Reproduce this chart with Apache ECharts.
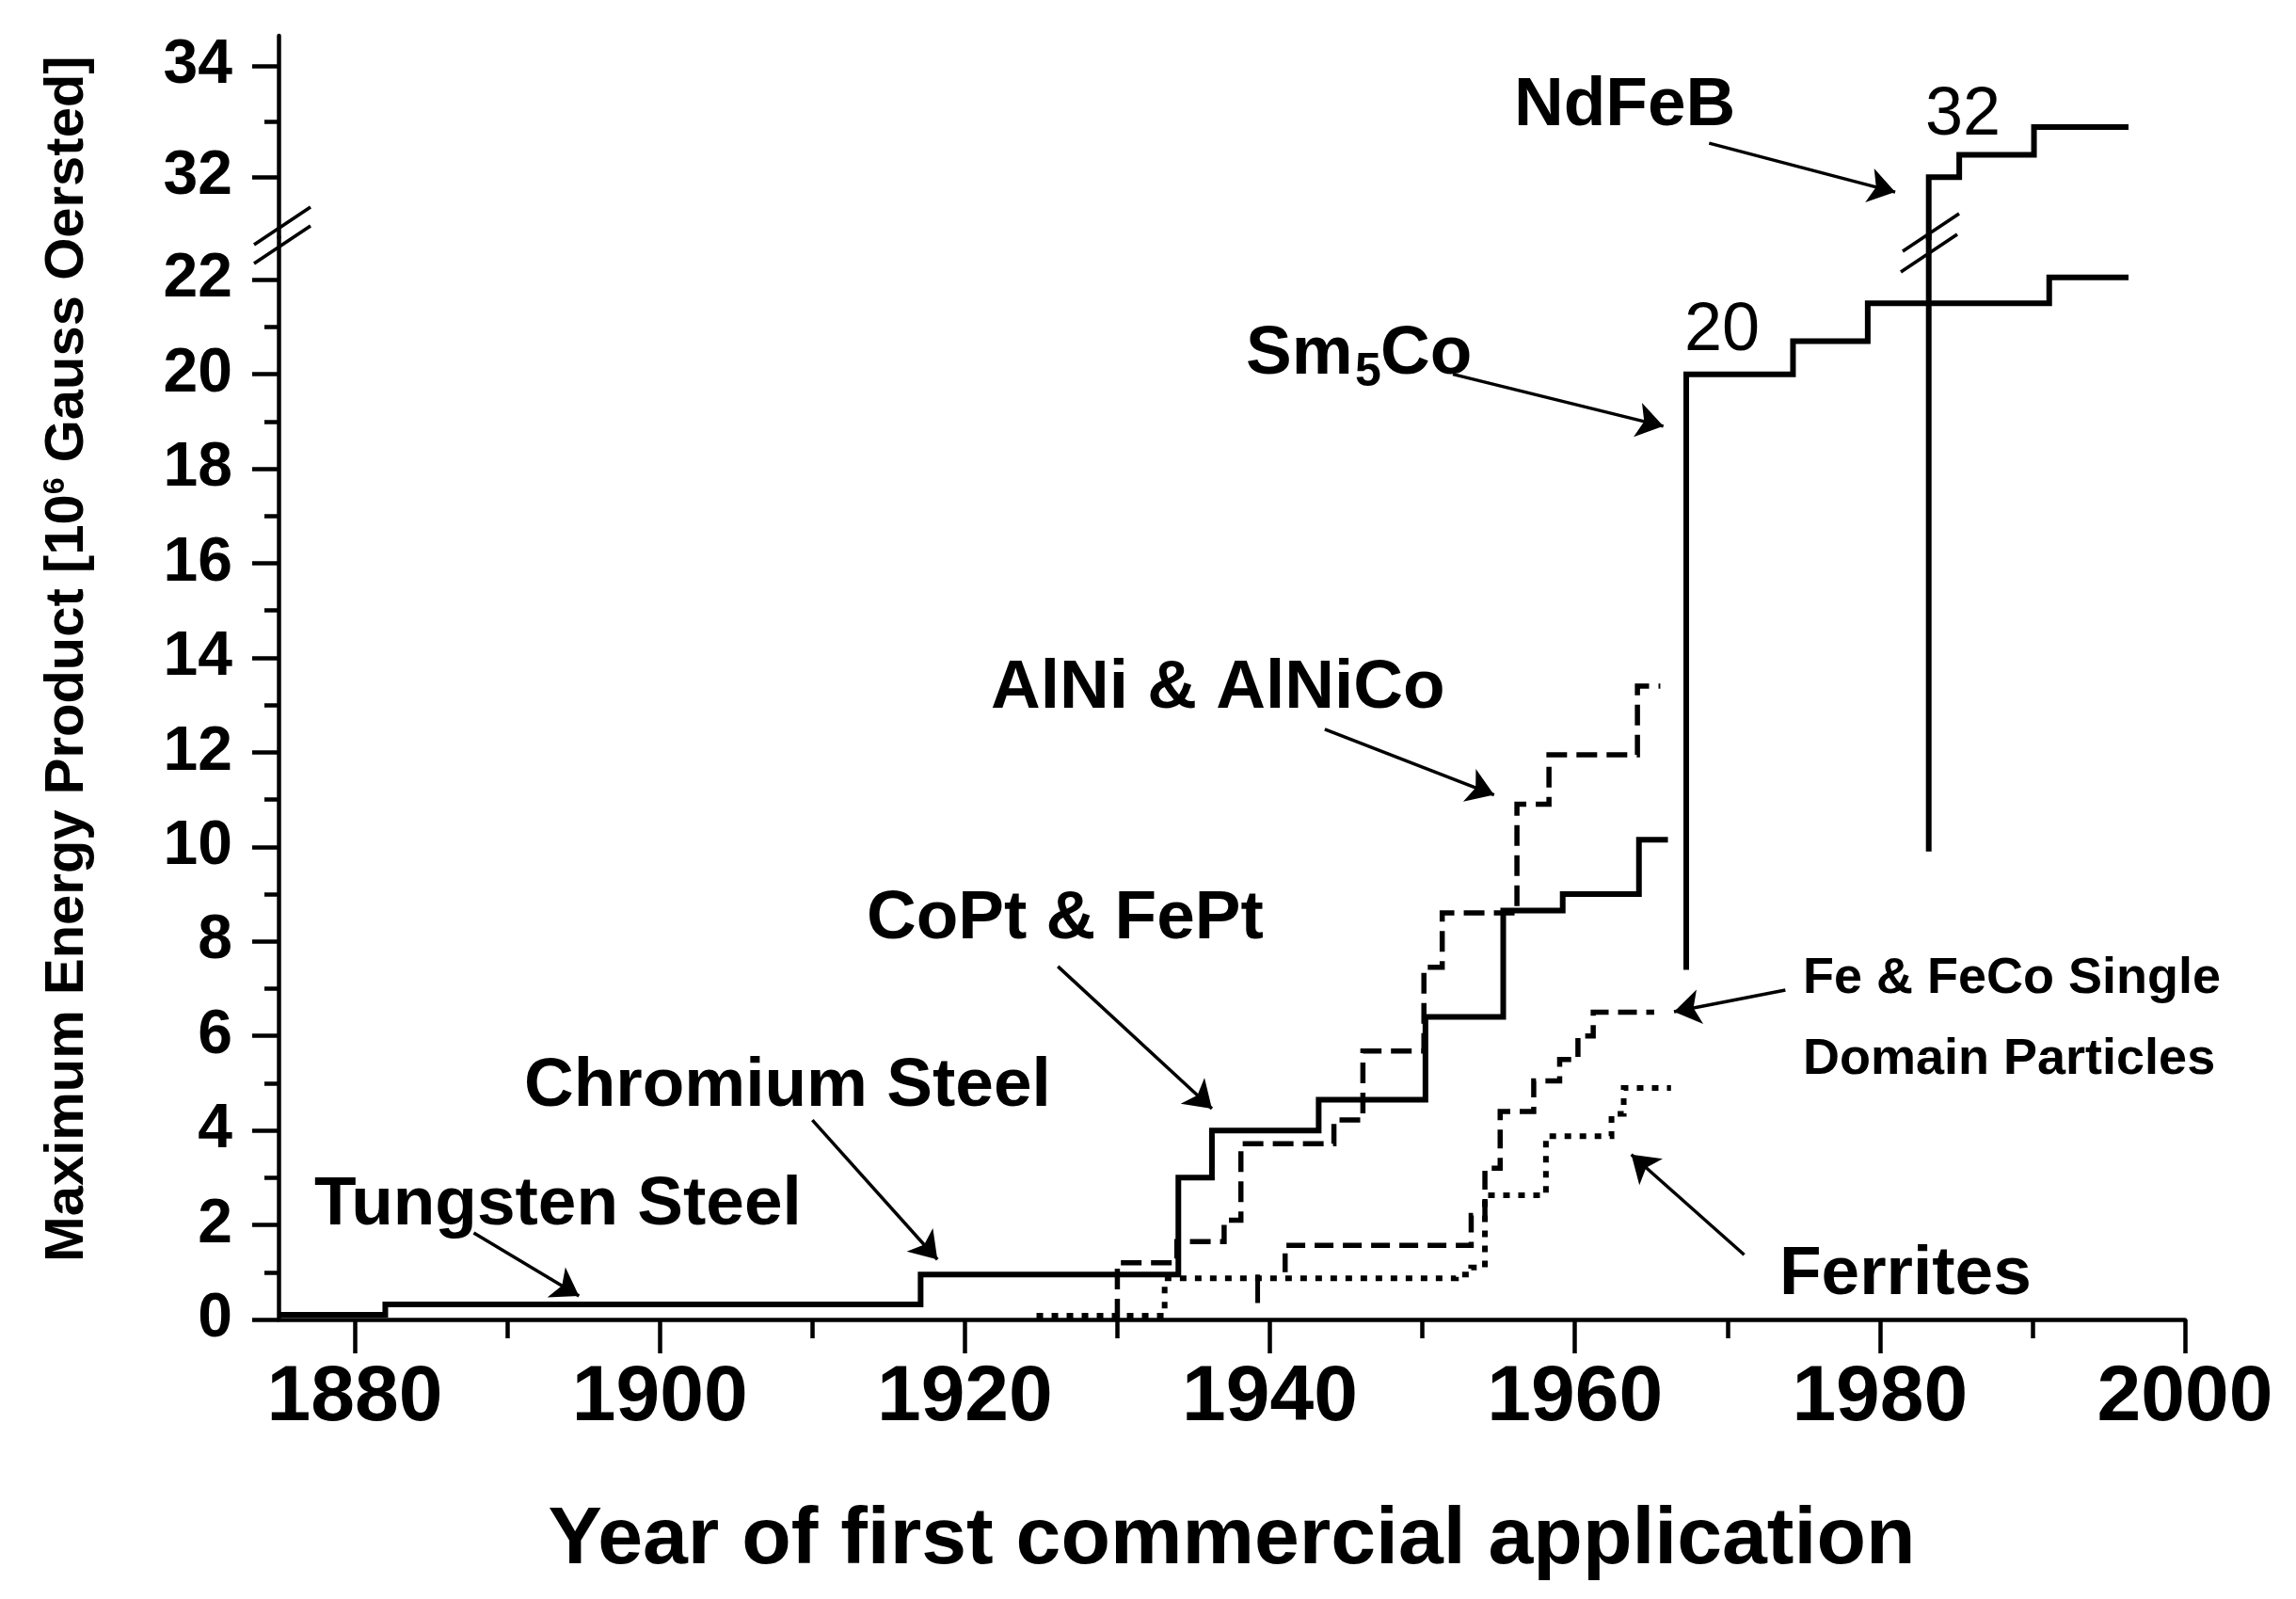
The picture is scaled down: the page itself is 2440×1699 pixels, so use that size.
<!DOCTYPE html>
<html>
<head>
<meta charset="utf-8">
<title>Maximum energy product of permanent magnets</title>
<script src="https://cdn.jsdelivr.net/npm/echarts@6/dist/echarts.min.js"></script>
<style>
  html, body { margin: 0; padding: 0; background: #fff; }
  #chart { width: 2440px; height: 1699px; }
</style>
</head>
<body>
<div id="chart"></div>
<script>
// step curves: value holds from each year until the next one
const steelYears = [1875, 1882, 1917.1, 1934, 1936.2, 1943.2, 1950.2, 1955.3, 1959.2, 1964.2, 1966.1];
const steelValues = [0.1, 0.32, 0.95, 3.0, 4.0, 4.65, 6.4, 8.65, 9.0, 10.15, 10.15];

const alnicoYears = [1930, 1930, 1933.9, 1937.0, 1938.1, 1944.2, 1946.1, 1950.1, 1951.3, 1956.2, 1958.3, 1964.1, 1965.6];
const alnicoValues = [0, 1.2, 1.65, 2.1, 3.72, 4.22, 5.68, 7.45, 8.6, 10.9, 11.95, 13.4, 13.4];

const fecoYears = [1941.0, 1941.0, 1953.2, 1954.1, 1955.1, 1957.3, 1959.0, 1960.2, 1961.2, 1965.2];
const fecoValues = [1.0, 1.57, 2.2, 3.2, 4.4, 5.05, 5.5, 6.0, 6.5, 6.5];

const ferriteYears = [1924.7, 1933.1, 1952.2, 1953.2, 1954.1, 1958.1, 1962.4, 1963.2, 1966.3];
const ferriteValues = [0.08, 0.87, 0.95, 1.1, 2.63, 3.88, 4.35, 4.9, 4.9];

const ferriteOnsetYears = [1939.2, 1939.2];
const ferriteOnsetValues = [0.35, 0.95];

const smcoYears = [1967.3, 1967.3, 1974.3, 1979.2, 1991.1, 1996.3];
const smcoValues = [7.4, 20, 20.7, 21.5, 22.05, 22.05];

const ndfebYears = [1983.2, 1983.2, 1985.2, 1990.1, 1996.3];
const ndfebValues = [9.9, 32, 32.4, 32.9, 32.9];

// annotation arrows [year, value]
const lowerArrowTails = [[1887.8, 1.83], [1910.0, 4.22], [1926.1, 7.47], [1943.6, 12.49], [1952.0, 20.0], [1973.8, 6.97], [1971.1, 1.37]];
const lowerArrowHeads = [[1894.7, 0.5], [1918.2, 1.27], [1936.2, 4.46], [1954.7, 11.1], [1965.8, 18.9], [1966.5, 6.51], [1963.7, 3.49]];
const upperArrowTails = [[1968.8, 32.61]];
const upperArrowHeads = [[1981.0, 31.73]];

// tick values
const xMajorTicks = [1880, 1900, 1920, 1940, 1960, 1980, 2000];
const xMinorTicks = [1890, 1910, 1930, 1950, 1970, 1990];
const yLowMajorTicks = [0, 2, 4, 6, 8, 10, 12, 14, 16, 18, 20, 22];
const yLowMinorTicks = [1, 3, 5, 7, 9, 11, 13, 15, 17, 19, 21];
const yHighMajorTicks = [32, 34];
const yHighMinorTicks = [33];

const FONT = "'Liberation Sans', Arial, sans-serif";
const BIG = 'bold 73px ' + FONT;

const toPoints = (years, values) => years.map((y, i) => [y, values[i]]);
const toArrows = (tails, heads) => tails.map((t, i) => [{ coord: t }, { coord: heads[i] }]);

function stepLine(data, type, width, xIdx, yIdx, extra) {
  return Object.assign({
    type: 'line',
    data: data,
    step: 'end',
    xAxisIndex: xIdx,
    yAxisIndex: yIdx,
    symbol: 'none',
    silent: true,
    animation: false,
    lineStyle: { color: '#000', width: width, type: type, cap: 'butt', join: 'miter' },
  }, extra || {});
}

function arrowMark(tails, heads) {
  return {
    silent: true,
    animation: false,
    symbol: ['none', 'arrow'],
    symbolSize: 28,
    label: { show: false },
    emphasis: { disabled: true },
    lineStyle: { color: '#000', width: 3.5, type: 'solid' },
    data: toArrows(tails, heads),
  };
}

const tickStyle = { color: '#000', width: 4.5 };
const labelStyle = { fontFamily: FONT, fontWeight: 'bold', color: '#000' };

function yAxisDef(grid, min, max, ticks, len, withLabels) {
  return {
    type: 'value',
    gridIndex: grid,
    min: min,
    max: max,
    position: 'left',
    splitLine: { show: false },
    axisLine: { show: withLabels, onZero: false, lineStyle: tickStyle },
    axisTick: { show: true, customValues: ticks, length: len, lineStyle: tickStyle },
    axisLabel: withLabels
      ? Object.assign({ show: true, customValues: ticks, margin: 49, fontSize: 66, padding: [0, 0, 20, 0] }, labelStyle)
      : { show: false },
  };
}

function text(str, x, y, font) {
  return {
    type: 'text',
    x: x,
    y: y,
    silent: true,
    style: { text: str, font: font, fill: '#000', align: 'left', verticalAlign: 'middle', textAlign: 'left', textVerticalAlign: 'middle' },
  };
}

function slash(cx, cy) {
  return {
    type: 'line',
    silent: true,
    shape: { x1: cx - 30, y1: cy + 20, x2: cx + 30, y2: cy - 20 },
    style: { stroke: '#000', lineWidth: 3.5 },
  };
}

const chart = echarts.init(document.getElementById('chart'));

const option = {
  backgroundColor: '#fff',
  animation: false,
  grid: [
    { left: 296, right: 118, top: 252, bottom: 297 },
    { left: 296, right: 118, top: 38, height: 214 },
  ],
  xAxis: [
    {
      type: 'value',
      gridIndex: 0,
      min: 1875,
      max: 2000,
      position: 'bottom',
      splitLine: { show: false },
      axisLine: { show: true, onZero: false, lineStyle: tickStyle },
      axisTick: { show: true, customValues: xMajorTicks, length: 36, lineStyle: tickStyle },
      axisLabel: Object.assign({
        show: true,
        customValues: xMajorTicks,
        margin: 42,
        fontSize: 84,
        formatter: (v) => String(v),
      }, labelStyle),
      name: 'Year of first commercial application',
      nameLocation: 'middle',
      nameGap: 192,
      nameTextStyle: { fontFamily: FONT, fontWeight: 'bold', fontSize: 86, color: '#000' },
    },
    {
      type: 'value',
      gridIndex: 0,
      min: 1875,
      max: 2000,
      position: 'bottom',
      splitLine: { show: false },
      axisLine: { show: false, onZero: false },
      axisTick: { show: true, customValues: xMinorTicks, length: 20, lineStyle: tickStyle },
      axisLabel: { show: false },
    },
    { type: 'value', gridIndex: 1, min: 1875, max: 2000, show: false },
  ],
  yAxis: [
    yAxisDef(0, 0, 22.9, yLowMajorTicks, 28, true),
    yAxisDef(0, 0, 22.9, yLowMinorTicks, 15, false),
    yAxisDef(1, 30.92, 34.54, yHighMajorTicks, 28, true),
    yAxisDef(1, 30.92, 34.54, yHighMinorTicks, 15, false),
  ],
  series: [
    stepLine(toPoints(steelYears, steelValues), 'solid', 6, 0, 0, {
      markLine: arrowMark(lowerArrowTails, lowerArrowHeads),
    }),
    stepLine(toPoints(alnicoYears, alnicoValues), [22, 10], 5.5, 0, 0),
    stepLine(toPoints(fecoYears, fecoValues), [20, 10], 5.5, 0, 0),
    stepLine(toPoints(ferriteYears, ferriteValues), [7, 9], 6, 0, 0),
    stepLine(toPoints(ferriteOnsetYears, ferriteOnsetValues), 'solid', 5, 0, 0),
    stepLine(toPoints(smcoYears, smcoValues), 'solid', 6, 0, 0),
    stepLine(toPoints(ndfebYears, ndfebValues), 'solid', 6, 0, 0),
    stepLine(toPoints(ndfebYears, ndfebValues), 'solid', 6, 2, 2, {
      markLine: arrowMark(upperArrowTails, upperArrowHeads),
    }),
  ],
  graphic: [
    {
      type: 'text',
      x: 72,
      y: 700,
      rotation: Math.PI / 2,
      silent: true,
      style: {
        text: '{t|Maximum Energy Product [10}{s|6}{t| Gauss Oersted]}',
        fill: '#000',
        align: 'center',
        verticalAlign: 'middle',
        textAlign: 'center',
        textVerticalAlign: 'middle',
        rich: {
          t: { fontFamily: FONT, fontWeight: 'bold', fontSize: 58, color: '#000' },
          s: { fontFamily: FONT, fontWeight: 'bold', fontSize: 32, color: '#000', verticalAlign: 'top' },
        },
      },
    },
    text('Tungsten Steel', 334, 1281, BIG),
    text('Chromium Steel', 557, 1155, BIG),
    text('CoPt & FePt', 921, 977, BIG),
    text('AlNi & AlNiCo', 1053, 732, BIG),
    text('Sm', 1324, 377, BIG),
    text('5', 1440, 396, 'bold 50px ' + FONT),
    text('Co', 1467, 377, BIG),
    text('NdFeB', 1609, 113, BIG),
    text('32', 2046, 123, '72px ' + FONT),
    text('20', 1790, 352, '72px ' + FONT),
    text('Fe & FeCo Single', 1916, 1040, 'bold 54px ' + FONT),
    text('Domain Particles', 1916, 1126, 'bold 54px ' + FONT),
    text('Ferrites', 1891, 1355, BIG),
    slash(300, 240),
    slash(300, 260),
    slash(2052, 247),
    slash(2050, 269),
  ],
};

chart.setOption(option);
</script>
</body>
</html>
